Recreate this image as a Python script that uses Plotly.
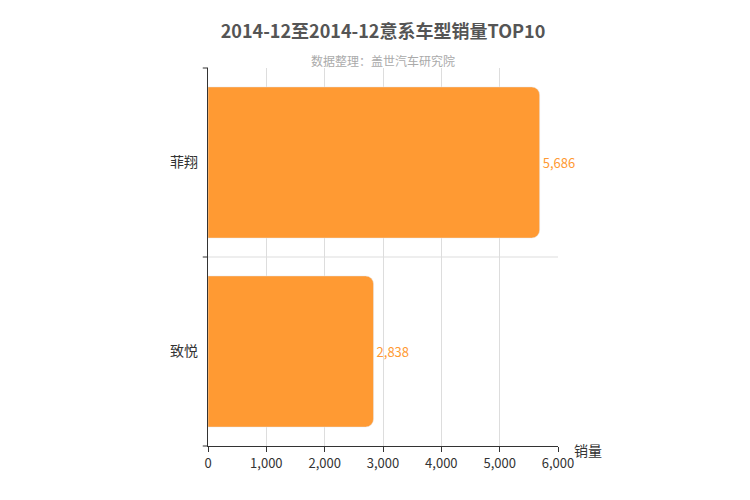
import plotly.graph_objects as go

categories = ["致悦", "菲翔"]
values = [2838, 5686]
labels = ["2,838", "5,686"]

fig = go.Figure(go.Bar(
    x=values, y=categories, orientation="h", width=0.8,
    marker=dict(color="#FF9A33", cornerradius=8),
    text=labels, textposition="outside", cliponaxis=False,
    textfont=dict(color="#FF9A33", size=13, family="Noto Sans CJK SC"),
))
fig.update_layout(
    width=750, height=500, plot_bgcolor="white", paper_bgcolor="white",
    margin=dict(l=200, r=200, t=60, b=62),
    font=dict(family="Noto Sans CJK SC", color="#333"),
    showlegend=False,
    title=dict(text="<b>2014-12至2014-12意系车型销量TOP10</b>", x=0.5, y=0.965, xanchor="center",
               font=dict(size=18, color="#555")),
    annotations=[
        dict(text="数据整理：盖世汽车研究院", x=0.5, y=1.048, xref="paper", yref="paper",
             showarrow=False, font=dict(size=12, color="#aaa")),
        dict(text="销量", x=1.04, y=-0.01, xref="paper", yref="paper", xanchor="left", yanchor="middle",
             showarrow=False, font=dict(size=14, color="#333")),
    ],
    xaxis=dict(range=[0, 6000], dtick=1000, tickformat=",", showgrid=True, gridcolor="#ddd",
               zeroline=False, showline=True, linecolor="#333", ticks="outside", ticklen=5,
               tickcolor="#333", tickfont=dict(size=13, color="#333")),
    yaxis=dict(showline=True, linecolor="#333", linewidth=1, ticks="", showgrid=False,
               tickfont=dict(size=14, color="#333"), ticksuffix="  "),
    shapes=[
        dict(type="line", xref="paper", yref="paper", x0=0, x1=1, y0=0.5, y1=0.5,
             line=dict(color="#ddd", width=1), layer="below"),
        *[dict(type="line", xref="paper", yref="paper", x0=-0.015, x1=0, y0=v, y1=v,
               line=dict(color="#333", width=1)) for v in (0, 0.5, 1)],
    ],
)
fig.write_html("out.html")
